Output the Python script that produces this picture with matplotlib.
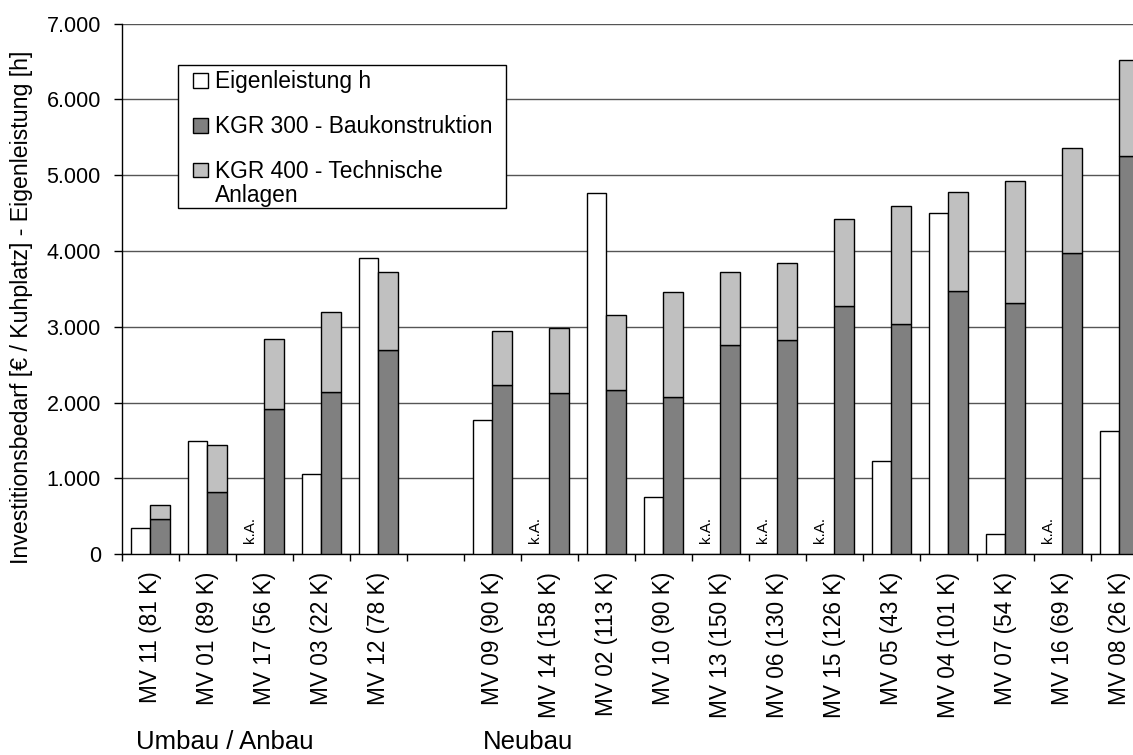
import matplotlib
matplotlib.use("Agg")
import matplotlib.pyplot as plt
import numpy as np
from matplotlib.patches import Rectangle

plt.rcParams['font.family'] = ['Liberation Sans', 'DejaVu Sans']

categories = ["MV 11 (81 K)", "MV 01 (89 K)", "MV 17 (56 K)", "MV 03 (22 K)", "MV 12 (78 K)", "",
              "MV 09 (90 K)", "MV 14 (158 K)", "MV 02 (113 K)", "MV 10 (90 K)", "MV 13 (150 K)",
              "MV 06 (130 K)", "MV 15 (126 K)", "MV 05 (43 K)", "MV 04 (101 K)", "MV 07 (54 K)",
              "MV 16 (69 K)", "MV 08 (26 K)"]
# None = keine Angabe (k.A.)
eigenleistung = [345, 1500, None, 1055, 3910, None,
                 1765, None, 4765, 760, None, None, None, 1235, 4500, 265, None, 1625]
kgr300 = [468, 819, 1910, 2140, 2699, None,
          2232, 2131, 2170, 2074, 2765, 2831, 3271, 3042, 3469, 3320, 3967, 5252]
kgr_total = [647, 1448, 2840, 3197, 3729, None,
             2950, 2988, 3152, 3465, 3729, 3844, 4420, 4597, 4777, 4918, 5358, 6516]
ka_flags = [False, False, True, False, False, False,
            False, True, False, False, True, True, True, False, False, False, True, False]
group_labels = ["Umbau / Anbau", "Neubau"]
legend_labels = ["Eigenleistung h", "KGR 300 - Baukonstruktion", "KGR 400 - Technische\nAnlagen"]
yticks = [0, 1000, 2000, 3000, 4000, 5000, 6000, 7000]
ytick_labels = ["0", "1.000", "2.000", "3.000", "4.000", "5.000", "6.000", "7.000"]

C_WHITE, C_DARK, C_LIGHT = "white", "#808080", "#c0c0c0"
W, H = 1133, 755
fig = plt.figure(figsize=(W / 100, H / 100), dpi=100)
n = len(categories)
left_px, right_px = 121.7, 121.7 + 18 * 57.0
bot_px, top_px = 554.3, 23.5
ax = fig.add_axes([left_px / W, 1 - bot_px / H, (right_px - left_px) / W, (bot_px - top_px) / H])

def fx(px):
    return px / W

def fy(py):
    return 1 - py / H

x = np.arange(n)
bw = 0.34
off = 0.17
idx = [i for i in range(n) if categories[i] != ""]
el = np.array([eigenleistung[i] if eigenleistung[i] is not None else 0 for i in range(n)], float)
k3 = np.array([kgr300[i] if kgr300[i] is not None else 0 for i in range(n)], float)
kt = np.array([kgr_total[i] if kgr_total[i] is not None else 0 for i in range(n)], float)
k4 = kt - k3

ax.set_axisbelow(True)
ax.yaxis.grid(True, color="#555555", linewidth=1.0)
valid_el = [i for i in idx if eigenleistung[i] is not None]
ax.bar(x[valid_el] - off, el[valid_el], width=bw, color=C_WHITE, edgecolor="black", linewidth=1.0, zorder=3)
ax.bar(x[idx] + off, k3[idx], width=bw, color=C_DARK, edgecolor="black", linewidth=1.0, zorder=3)
ax.bar(x[idx] + off, k4[idx], bottom=k3[idx], width=bw, color=C_LIGHT, edgecolor="black", linewidth=1.0, zorder=3)

for i in range(n):
    if ka_flags[i]:
        ax.text(x[i] - 0.25, 150, "k.A.", rotation=90, ha="center", va="bottom", fontsize=10.9, zorder=4)

ax.set_xlim(-0.5, n - 0.5)
ax.set_ylim(0, 7000)
ax.set_yticks(yticks)
ax.set_yticklabels(ytick_labels, fontsize=15.5)
ax.set_xticks(x)
ax.set_xticklabels(categories, rotation=90, fontsize=16.3)
ax.tick_params(axis="x", which="major", length=0, pad=12.5)
ax.set_xticks(np.arange(n + 1) - 0.5, minor=True)
ax.tick_params(axis="x", which="minor", length=5.3, width=1.0, direction="out", color="black")
ax.tick_params(axis="y", length=6, width=1.0, direction="out", pad=9)
for s in ["top", "right"]:
    ax.spines[s].set_visible(False)
for s in ["left", "bottom"]:
    ax.spines[s].set_linewidth(1.0)
    ax.spines[s].set_color("black")

fig.text(fx(22), fy(307), "Investitionsbedarf [€ / Kuhplatz] - Eigenleistung [h]", rotation=90,
         fontsize=16.7, ha="center", va="center")

# legend (drawn manually to match original layout)
fig.patches.append(Rectangle((fx(178.3), fy(207.7)), fx(505.7) - fx(178.3), fy(65) - fy(207.7),
                             transform=fig.transFigure, facecolor="white", edgecolor="black",
                             linewidth=1.0, zorder=5))
rows_top = [73, 118.3, 162.5]
baselines = [88.3, 133.3, 177.7]
for col, top, base, lab in zip([C_WHITE, C_DARK, C_LIGHT], rows_top, baselines, legend_labels):
    fig.patches.append(Rectangle((fx(193.3), fy(top + 14.5)), fx(14.5), 14.5 / H,
                                 transform=fig.transFigure, facecolor=col, edgecolor="black",
                                 linewidth=1.0, zorder=6))
    lines = lab.split("\n")
    for j, line in enumerate(lines):
        fig.text(fx(215), fy(base + 24 * j), line, fontsize=16.4, ha="left", va="baseline", zorder=7)

fig.text(fx(136), fy(749), group_labels[0], fontsize=18.5, ha="left", va="baseline")
fig.text(fx(483.3), fy(749), group_labels[1], fontsize=18.5, ha="left", va="baseline")

fig.savefig("out.png", dpi=100)
